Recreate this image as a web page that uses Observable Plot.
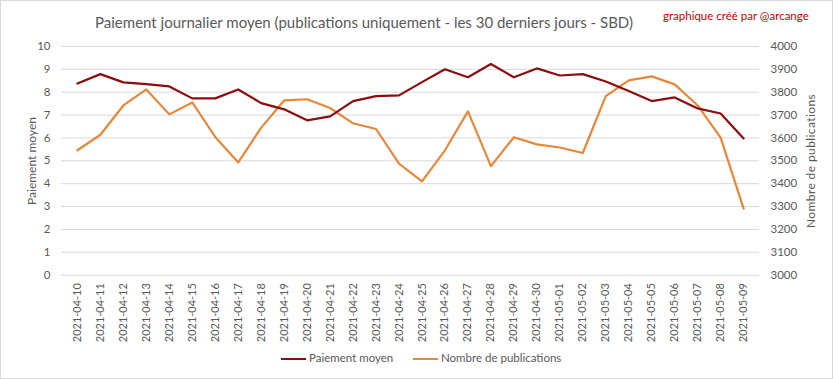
<!DOCTYPE html>
<html>
<head>
<meta charset="utf-8">
<script src="https://cdn.jsdelivr.net/npm/d3@7"></script>
<script src="https://cdn.jsdelivr.net/npm/@observablehq/plot@0.6"></script>
<style>
  html, body { margin: 0; padding: 0; background: #fff; }
  #wrap { position: relative; width: 833px; height: 379px; box-sizing: border-box; border: 1px solid #d9d9d9; overflow: hidden; font-family: Lato, "Open Sans", sans-serif; color: #595959; }
  #chart { position: absolute; left: -1px; top: -1px; }
  .abs { position: absolute; white-space: nowrap; }
  #title { left: 0; width: 726px; text-align: center; top: 12px; font-size: 15px; color: #595959; }
  #credit { left: 662px; top: 8px; font-size: 11.5px; color: #c00000; }
  .ytitle { font-size: 12px; color: #595959; }
  #legend { top: 350px; left: 0; width: 833px; font-size: 11.5px; color: #595959; }
  .sw { position: absolute; top: 7px; width: 25px; height: 0; border-top: 2.5px solid; }
</style>
</head>
<body>
<div id="wrap">
  <div id="chart"></div>
  <div id="title" class="abs">Paiement journalier moyen (publications uniquement  - les 30 derniers jours - SBD)</div>
  <div id="credit" class="abs">graphique créé par @arcange</div>
  <div class="abs ytitle" style="left:30px; top:160px; transform: translate(-50%,-50%) rotate(-90deg);">Paiement moyen</div>
  <div class="abs ytitle" style="left:809px; top:160px; transform: translate(-50%,-50%) rotate(-90deg); letter-spacing:0.4px;">Nombre de publications</div>
  <div id="legend" class="abs">
    <span class="sw" style="left:280px; border-color:#8c0d0d;"></span>
    <span class="abs" style="left:308px; top:0;">Paiement moyen</span>
    <span class="sw" style="left:412px; border-color:#e8873a;"></span>
    <span class="abs" style="left:440px; top:0;">Nombre de publications</span>
  </div>
</div>
<script>
const dates = ["2021-04-10","2021-04-11","2021-04-12","2021-04-13","2021-04-14","2021-04-15","2021-04-16","2021-04-17","2021-04-18","2021-04-19","2021-04-20","2021-04-21","2021-04-22","2021-04-23","2021-04-24","2021-04-25","2021-04-26","2021-04-27","2021-04-28","2021-04-29","2021-04-30","2021-05-01","2021-05-02","2021-05-03","2021-05-04","2021-05-05","2021-05-06","2021-05-07","2021-05-08","2021-05-09"];
const paiementMoyen = [8.38,8.79,8.43,8.35,8.25,7.73,7.73,8.12,7.52,7.25,6.77,6.94,7.61,7.83,7.86,8.44,9.0,8.65,9.23,8.65,9.04,8.73,8.79,8.47,8.05,7.61,7.77,7.29,7.07,5.98];
const nombrePublications = [3546,3614,3742,3812,3703,3755,3604,3493,3645,3764,3769,3731,3664,3639,3488,3410,3546,3716,3477,3603,3572,3558,3534,3783,3852,3869,3834,3742,3601,3291];
const leftTicks = [0,1,2,3,4,5,6,7,8,9,10];
const rightTicks = [3000,3100,3200,3300,3400,3500,3600,3700,3800,3900,4000];

// map right axis (3000..4000) onto left scale (0..10)
const toLeft = v => (v - 3000) / 100;

const rowsA = dates.map((d, i) => ({date: d, v: paiementMoyen[i]}));
const rowsB = dates.map((d, i) => ({date: d, v: toLeft(nombrePublications[i])}));

const plot = Plot.plot({
  width: 833,
  height: 379,
  marginTop: 46,
  marginBottom: 104,
  marginLeft: 61,
  marginRight: 73,
  style: {fontFamily: "Lato, 'Open Sans', sans-serif", fontSize: "11.5px", color: "#595959", background: "transparent"},
  x: {type: "point", domain: dates, padding: 0.5, label: null},
  y: {domain: [0, 10], label: null},
  marks: [
    Plot.ruleY(leftTicks, {stroke: "#d9d9d9", strokeWidth: 1}),
    Plot.axisY(leftTicks, {anchor: "left", tickSize: 0, tickPadding: 11, label: null, fill: "#595959", fontSize: 11.5}),
    Plot.axisY(rightTicks.map(toLeft), {anchor: "right", tickSize: 0, tickPadding: 11, label: null, tickFormat: d => String(Math.round(3000 + d * 100)), fill: "#595959", fontSize: 11.5, textAnchor: "start"}),
    Plot.axisX(dates, {anchor: "bottom", tickSize: 0, tickPadding: 8, tickRotate: -90, label: null, fill: "#595959", fontSize: 11}),
    Plot.line(rowsB, {x: "date", y: "v", stroke: "#e8873a", strokeWidth: 2.2, curve: "linear"}),
    Plot.line(rowsA, {x: "date", y: "v", stroke: "#8c0d0d", strokeWidth: 2.2, curve: "linear"})
  ]
});
document.getElementById("chart").appendChild(plot);
</script>
</body>
</html>
